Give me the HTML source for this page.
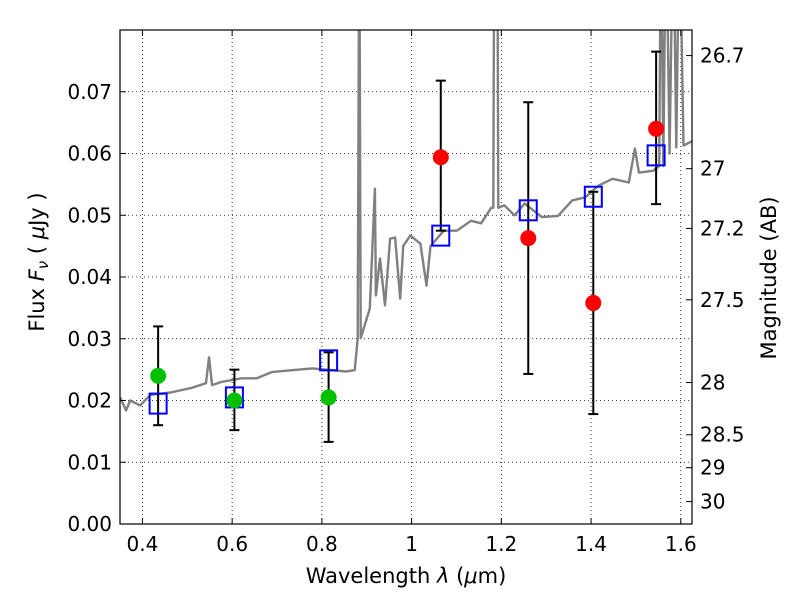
<!DOCTYPE html>
<html><head><meta charset="utf-8"><style>
body{margin:0;background:#fff}
svg text{font-family:"DejaVu Sans","Liberation Sans",sans-serif;fill:#000}
</style></head><body>
<svg id="c" width="800" height="600" xmlns="http://www.w3.org/2000/svg">
<defs><clipPath id="clip"><rect x="120" y="30" width="572" height="494"/></clipPath></defs>
<rect x="0" y="0" width="800" height="600" fill="#fff"/>
<g id="grid"></g>
<g id="spec" clip-path="url(#clip)"></g>
<g id="marks"></g>
<rect x="120" y="30" width="572" height="494" fill="none" stroke="#000" stroke-width="1.2"/>
<g id="axes"></g>
<text x="406" y="583" font-size="21" text-anchor="middle">Wavelength  <tspan font-style="italic">λ</tspan> (<tspan font-style="italic">μ</tspan>m)</text>
<text transform="translate(44,262) rotate(-90)" font-size="21" text-anchor="middle">Flux  <tspan font-style="italic">F</tspan><tspan font-style="italic" font-size="15" dy="4">ν</tspan><tspan dy="-4">  ( </tspan><tspan font-style="italic">μ</tspan>Jy )</text>
<text transform="translate(776,278) rotate(-90)" font-size="21" text-anchor="middle">Magnitude (AB)</text>
</svg>
<script>
const specWave=[0.350,0.3635,0.3725,0.395,0.4176,0.4627,0.5078,0.5417,0.5484,0.5552,0.5755,0.6206,0.6544,0.6882,0.7333,0.7784,0.8235,0.8528,0.8731,0.8799,0.8833,0.8866,0.9069,0.9182,0.9205,0.9295,0.9408,0.9520,0.9633,0.9746,0.9813,0.9971,1.0197,1.0332,1.0422,1.0715,1.1009,1.1324,1.1550,1.1775,1.182,1.1843,1.191,1.1933,1.2068,1.2294,1.2519,1.2903,1.3263,1.3579,1.3872,1.4165,1.4481,1.4842,1.4977,1.5067,1.5383,1.5518,1.556,1.561,1.567,1.575,1.583,1.590,1.597,1.606,1.628,1.639];
const specFlux=[0.0205,0.0184,0.0200,0.0192,0.0209,0.0213,0.0220,0.0228,0.0270,0.0225,0.0230,0.0236,0.0236,0.0246,0.0249,0.0252,0.0249,0.0247,0.0249,0.0300,0.1000,0.0301,0.0349,0.0543,0.0370,0.0430,0.0354,0.0462,0.0464,0.0365,0.0450,0.0467,0.0454,0.0386,0.0450,0.0475,0.0475,0.0491,0.0487,0.0512,0.0512,0.1000,0.1000,0.0512,0.0516,0.0500,0.0519,0.0497,0.0499,0.0524,0.0529,0.0548,0.0559,0.0553,0.0608,0.0569,0.0572,0.0580,0.1000,0.0580,0.1000,0.0600,0.1000,0.0610,0.1000,0.0613,0.0621,0.0621];
const bandWave=[0.435,0.605,0.815,1.065,1.26,1.405,1.545];
const obsFlux=[0.024,0.020,0.0205,0.0594,0.0463,0.0358,0.064];
const errLow=[0.016,0.0152,0.0133,0.0475,0.0243,0.0178,0.0518];
const errHigh=[0.032,0.025,0.0278,0.0718,0.0683,0.0538,0.0765];
const modelFlux=[0.0195,0.0205,0.0265,0.0467,0.0508,0.053,0.0597];
const obsColor=['#00c000','#00c000','#00c000','#ff0000','#ff0000','#ff0000','#ff0000'];
const xTicks=[0.4,0.6,0.8,1.0,1.2,1.4,1.6];
const xTickLabels=['0.4','0.6','0.8','1','1.2','1.4','1.6'];
const yTicks=[0,0.01,0.02,0.03,0.04,0.05,0.06,0.07];
const yTickLabels=['0.00','0.01','0.02','0.03','0.04','0.05','0.06','0.07'];
const magTicks=[26.7,27,27.2,27.5,28,28.5,29,30];
const magTickLabels=['26.7','27','27.2','27.5','28','28.5','29','30'];

const X0=120,X1=692,Y0=524,Y1=30,xmin=0.35,xmax=1.625,ymin=0,ymax=0.08;
const sx=v=>X0+(v-xmin)/(xmax-xmin)*(X1-X0);
const sy=v=>Y0-(v-ymin)/(ymax-ymin)*(Y0-Y1);
const NS='http://www.w3.org/2000/svg';
function mk(tag,attrs,parent){const e=document.createElementNS(NS,tag);for(const k in attrs)e.setAttribute(k,attrs[k]);parent.appendChild(e);return e;}
const grid=document.getElementById('grid'),axes=document.getElementById('axes'),spec=document.getElementById('spec'),marks=document.getElementById('marks');

xTicks.forEach((t,i)=>{const x=sx(t);
 const g=mk('line',{x1:x,x2:x,y1:Y1,y2:Y0,stroke:'#000','stroke-width':0.8,'stroke-dasharray':'1,3'},grid);
 
 
 mk('line',{x1:x,x2:x,y1:Y0,y2:Y0-6,stroke:'#000'},axes);
 mk('line',{x1:x,x2:x,y1:Y1,y2:Y1+6,stroke:'#000'},axes);
 const tx=mk('text',{x:x,y:Y0+27,'font-size':20,'text-anchor':'middle'},axes);tx.textContent=xTickLabels[i];
 
 
});
yTicks.forEach((t,i)=>{const y=sy(t);
 const g=mk('line',{x1:X0,x2:X1,y1:y,y2:y,stroke:'#000','stroke-width':0.8,'stroke-dasharray':'1,3'},grid);
 
 
 mk('line',{x1:X0,x2:X0+6,y1:y,y2:y,stroke:'#000'},axes);
 const tx=mk('text',{x:X0-8,y:y+7,'font-size':20,'text-anchor':'end'},axes);tx.textContent=yTickLabels[i];
 
 
});
magTicks.forEach((m,i)=>{const f=Math.pow(10,(23.9-m)/2.5);const y=sy(f);
 mk('line',{x1:X1,x2:X1-6,y1:y,y2:y,stroke:'#000'},axes);
 const tx=mk('text',{x:X1+8,y:y+7,'font-size':20},axes);tx.textContent=magTickLabels[i];
 
 
});
const pts=specWave.map((w,i)=>sx(w).toFixed(1)+','+sy(specFlux[i]).toFixed(1)).join(' ');
const pl=mk('polyline',{points:pts,fill:'none',stroke:'#808080','stroke-width':2.4,'stroke-linejoin':'round'},spec);



bandWave.forEach((w,i)=>{const x=sx(w);
 const eb=mk('g',{stroke:'#000','stroke-width':2},marks);
 
 
 mk('line',{x1:x,x2:x,y1:sy(errLow[i]),y2:sy(errHigh[i])},eb);
 mk('line',{x1:x-5,x2:x+5,y1:sy(errLow[i]),y2:sy(errLow[i])},eb);
 mk('line',{x1:x-5,x2:x+5,y1:sy(errHigh[i]),y2:sy(errHigh[i])},eb);
});
bandWave.forEach((w,i)=>{
 const sq=mk('rect',{x:sx(w)-8.5,y:sy(modelFlux[i])-10,width:17,height:20,fill:'none',stroke:'#0000ff','stroke-width':2},marks);
 
 
});
bandWave.forEach((w,i)=>{
 const c=mk('circle',{cx:sx(w),cy:sy(obsFlux[i]),r:8,fill:obsColor[i]},marks);
 
 
});
</script>
</body></html>
